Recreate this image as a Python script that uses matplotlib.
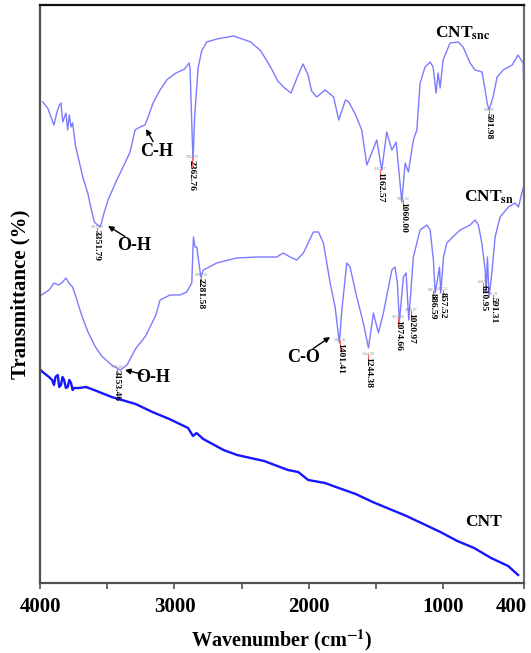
import numpy as np
import matplotlib
matplotlib.use('Agg')
import matplotlib.pyplot as plt
from matplotlib.transforms import ScaledTranslation

plt.rcParams['font.family'] = ['Liberation Serif', 'DejaVu Serif']
plt.rcParams['font.weight'] = 'bold'
plt.rcParams['mathtext.fontset'] = 'stix'

# CNT_snc (top trace), wavenumber (cm-1) vs transmittance (a.u.)
snc_wn = [3980, 3943, 3918, 3896, 3876, 3856, 3844, 3831, 3807, 3794, 3782, 3769, 3757,
          3737, 3708, 3682, 3645, 3621, 3596, 3554, 3541, 3524, 3494, 3429, 3382, 3330,
          3293, 3256, 3219, 3196, 3159, 3107, 3057, 3040, 2988, 2925, 2891, 2884, 2862,
          2849, 2824, 2798, 2760, 2685, 2559, 2433, 2357, 2281, 2232, 2181, 2133, 2080,
          2043, 2006, 1980, 1942, 1880, 1816, 1778, 1728, 1703, 1652, 1607, 1569, 1545,
          1495, 1458, 1421, 1383, 1351, 1309, 1284, 1260, 1223, 1197, 1173, 1136, 1098,
          1076, 1054, 1039, 1024, 1002, 950, 890, 853, 801, 764, 712, 689, 674, 660, 630,
          600, 555, 488, 444, 421, 406, 401]
snc_t = [481, 475, 466, 458, 470, 478, 480, 461, 470, 453, 468, 456, 460,
         438, 421, 406, 390, 375, 361, 356, 361, 370, 383, 403, 416, 431,
         453, 456, 458, 466, 480, 493, 503, 505, 510, 514, 520, 515, 422,
         468, 515, 532, 541, 544, 547, 541, 532, 515, 502, 495, 490, 508,
         519, 508, 492, 486, 493, 486, 463, 483, 481, 468, 453, 418, 426,
         443, 413, 451, 433, 441, 381, 420, 411, 443, 453, 500, 516, 521,
         516, 490, 510, 495, 523, 540, 541, 536, 520, 513, 511, 493, 480, 473, 486,
         506, 513, 518, 528, 523, 520, 490]

# CNT_sn (middle trace)
sn_wn = [3990, 3933, 3896, 3860, 3832, 3807, 3785, 3758, 3732, 3705, 3680, 3643, 3592,
         3542, 3467, 3403, 3353, 3290, 3214, 3138, 3107, 3033, 2958, 2909, 2871, 2859,
         2847, 2834, 2804, 2785, 2685, 2537, 2388, 2239, 2190, 2140, 2090, 2041, 1967,
         1929, 1892, 1842, 1805, 1773, 1755, 1718, 1694, 1644, 1595, 1557, 1520, 1483,
         1446, 1383, 1359, 1342, 1327, 1297, 1277, 1257, 1223, 1173, 1123, 1098, 1074,
         1061, 1044, 1029, 1019, 999, 974, 937, 875, 801, 764, 739, 714, 689, 682, 672,
         660, 639, 615, 578, 516, 466, 441, 416, 404]
sn_t = [288, 293, 300, 298, 301, 305, 300, 296, 286, 274, 264, 251, 237,
        227, 218, 213, 218, 234, 247, 268, 283, 288, 288, 291, 300, 346,
        336, 336, 306, 313, 320, 325, 326, 326, 330, 326, 323, 330, 351,
        351, 340, 300, 276, 240, 273, 320, 316, 286, 260, 235, 270, 250,
        270, 313, 316, 300, 261, 306, 310, 263, 326, 353, 358, 353, 323,
        290, 303, 316, 290, 326, 340, 345, 353, 358, 363, 358, 340, 313, 290, 326,
        286, 310, 346, 366, 376, 380, 376, 390, 396]

# CNT (bottom trace)
cnt_wn = [3996, 3980, 3933, 3910, 3896, 3885, 3868, 3857, 3844, 3832, 3821, 3807, 3794,
          3782, 3769, 3757, 3747, 3710, 3658, 3598, 3467, 3289, 3164, 3038, 2899, 2862,
          2836, 2786, 2635, 2534, 2333, 2156, 2080, 2005, 1880, 1778, 1652, 1526, 1400,
          1274, 1148, 1022, 896, 771, 645, 518, 444]
cnt_t = [213, 211, 206, 203, 198, 206, 208, 196, 198, 206, 203, 195, 196,
         203, 200, 193, 195, 195, 196, 193, 186, 179, 171, 164, 155, 147,
         150, 144, 133, 128, 122, 113, 111, 103, 100, 95, 89, 81, 74,
         67, 59, 51, 42, 35, 25, 17, 8]

# peak labels: text, x (cm-1), y top (a.u.)
peak_txt = ['3351.79', '2362.76', '1162.57', '1060.00', '591.98',
            '3153.46', '2281.58', '1401.41', '1244.38', '1074.66', '1020.97',
            '886.59', '857.52', '610.95', '591.31']
peak_x = [3576, 2869, 1470, 1299, 660,
          3427, 2802, 1768, 1560, 1336, 1240, 1076, 1002, 704, 630]
peak_y = [353, 423, 411, 381, 470,
          213, 305, 240, 226, 263, 270, 290, 291, 298, 286]

# band assignments: text, text pos, arrow tip
band_txt = ['C-H', 'O-H', 'O-H', 'C-O']
band_xy = [(3130, 431), (3301, 338), (3159, 205), (2036, 225)]
band_tip = [(3211, 454), (3494, 357), (3368, 213), (1842, 246)]

fig = plt.figure(figsize=(5.31, 6.53), dpi=100)
ax = fig.add_axes([40/531, 1-583/653, 484/531, 578/653])

ax.plot(snc_wn, snc_t, color='#7b7bff', lw=1.0)
ax.plot(sn_wn, sn_t, color='#7b7bff', lw=1.0)
ax.plot(cnt_wn, cnt_t, color='#1515ff', lw=1.7)

for t, x, y in zip(peak_txt, peak_x, peak_y):
    ax.plot([x, x], [y + 2, y - 6], color='#ff6060', lw=0.8)
    ax.text(x, y + 1, t, fontsize=2.8, color='#888888', ha='center', va='bottom',
            fontweight='normal')
    ax.text(x, y, t, fontsize=6.8, rotation=270, ha='center', va='top')

for t, xy, tip in zip(band_txt, band_xy, band_tip):
    ax.text(xy[0], xy[1], t, fontsize=13, ha='center', va='center')
    tail = (xy[0] + (tip[0] - xy[0]) * 0.35, xy[1] + (tip[1] - xy[1]) * 0.45)
    ax.annotate('', xy=tip, xytext=tail,
                arrowprops=dict(arrowstyle='-|>', color='black', lw=1.0,
                                mutation_scale=8, shrinkA=0, shrinkB=0))

ax.text(853, 550, r'CNT$_{\mathbf{snc}}$', fontsize=12.5, ha='center', va='center')
ax.text(660, 386, r'CNT$_{\mathbf{sn}}$', fontsize=12.5, ha='center', va='center')
ax.text(704, 61, 'CNT', fontsize=12.5, ha='center', va='center')

ax.set_xlim(4000, 400)
ax.set_ylim(0, 578)
ax.set_xticks([4000, 3000, 2000, 1000, 400])
ax.set_xticks([3500, 2500, 1500], minor=True)
ax.set_yticks([])
ax.tick_params(axis='x', which='both', direction='out', length=4, width=1.2,
               color='#505050', labelsize=15, pad=6)
for lab in ax.get_xticklabels():
    lab.set_fontweight('bold')
# keep the last label inside the figure
last = ax.get_xticklabels()[-1]
last.set_transform(last.get_transform() + ScaledTranslation(-13/100, 0, fig.dpi_scale_trans))

for side, c in [('left', '#505050'), ('bottom', '#505050'), ('top', '#111111'), ('right', '#707070')]:
    ax.spines[side].set_color(c)
    ax.spines[side].set_linewidth(1.6)

ax.set_xlabel(r'Wavenumber (cm$^{\mathbf{-1}}$)', fontsize=14.5, fontweight='bold', labelpad=8)
ax.set_ylabel('Transmittance (%)', fontsize=15, fontweight='bold', labelpad=7)

fig.savefig('out.png', dpi=100)
